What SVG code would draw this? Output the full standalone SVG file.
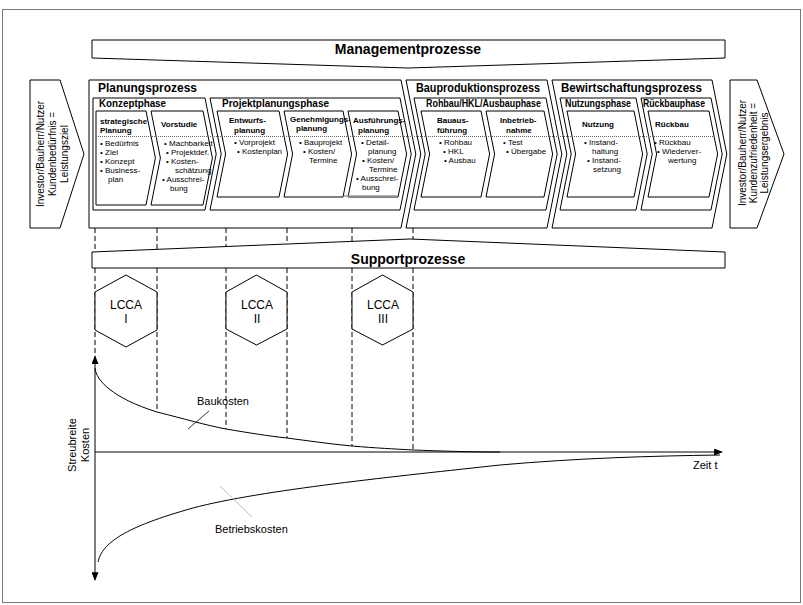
<svg xmlns="http://www.w3.org/2000/svg" width="803" height="605" viewBox="0 0 803 605">
<defs>
<style>
.sh{fill:#fff;stroke:#000;stroke-width:1}
.t{font-family:"Liberation Sans",Arial,sans-serif;fill:#000}
.pt{font-size:12px;font-weight:bold}
.ph{font-size:10px;font-weight:bold}
.sb{font-size:8px;font-weight:bold}
.bd{font-size:8px}
.big{font-size:14px;font-weight:bold}
.lab{font-size:11px}
.ds{stroke:#000;stroke-width:1;stroke-dasharray:5,3;fill:none}
.ln{stroke:#000;stroke-width:1;fill:none}
</style>
<marker id="arr" viewBox="0 0 10 8" refX="9" refY="4" markerWidth="9" markerHeight="7" markerUnits="userSpaceOnUse" orient="auto-start-reverse">
<path d="M0,0 L10,4 L0,8 Z" fill="#000"/>
</marker>
</defs>
<rect x="2.5" y="9.5" width="798" height="593" fill="#fff" stroke="#777"/>

<g id="connectors">
<line class="ds" x1="95" y1="228" x2="95" y2="253"/>
<line class="ds" x1="157" y1="228" x2="157" y2="253"/>
<line class="ds" x1="226" y1="228" x2="226" y2="253"/>
<line class="ds" x1="287" y1="228" x2="287" y2="253"/>
<line class="ds" x1="352" y1="228" x2="352" y2="253"/>
<line class="ds" x1="413" y1="228" x2="413" y2="253"/>
<line class="ds" x1="95" y1="268" x2="95" y2="355"/>
<line class="ds" x1="157" y1="268" x2="157" y2="412"/>
<line class="ds" x1="226" y1="268" x2="226" y2="429"/>
<line class="ds" x1="287" y1="268" x2="287" y2="438"/>
<line class="ds" x1="352" y1="268" x2="352" y2="446"/>
<line class="ds" x1="413" y1="268" x2="413" y2="449"/>
<line class="ln" x1="95" y1="356" x2="95" y2="580" marker-start="url(#arr)" marker-end="url(#arr)"/>
<line class="ln" x1="95" y1="452" x2="722" y2="452" marker-end="url(#arr)"/>
<path class="ln" d="M95,368 C96,380 112,398 157,412 C185,419 205,425 226,429 C250,433 268,436 287,438 C310,441 330,444 352,446 C375,448 395,449 413,450 C440,451 470,452 500,452"/>
<path class="ln" d="M98,562 C102,543 125,527 193,508 C260,490 400,476 500,465 C580,458 650,456 720,455"/>
<line x1="209" y1="411" x2="188" y2="429" stroke="#333" stroke-width="1"/>
<line x1="220" y1="486" x2="252" y2="517" stroke="#bbb" stroke-width="1"/>
</g>

<g id="management">
<path class="sh" d="M92,40 H725 V58 L408,68 L92,58 Z"/>
<text class="t big" x="408" y="54" text-anchor="middle">Managementprozesse</text>
</g>

<g id="support">
<path class="sh" d="M92,252 L410,239 L725,252 V268 H92 Z"/>
<text class="t big" x="408" y="264" text-anchor="middle">Supportprozesse</text>
</g>

<g id="input">
<path class="sh" d="M30,80 H60 L84,154 L60,228 H30 Z"/>
<g class="t" font-size="10" text-anchor="middle">
<text transform="translate(44,154) rotate(-90)">Investor/Bauherr/Nutzer</text>
<text transform="translate(56,154) rotate(-90)">Kundenbedürfnis =</text>
<text transform="translate(68,154) rotate(-90)">Leistungsziel</text>
</g>
</g>

<g id="output">
<path class="sh" d="M730,80 H757 L784,154 L757,228 H730 Z"/>
<g class="t" font-size="10" text-anchor="middle">
<text transform="translate(746,153) rotate(-90)">Investor/Bauherr/Nutzer</text>
<text transform="translate(757,153) rotate(-90)">Kundenzufriedenheit =</text>
<text transform="translate(768,153) rotate(-90)">Leistungsergebnis</text>
</g>
</g>

<g id="planungsprozess">
<path class="sh" d="M89,80 H401 L415.8,154 L401,228 H89 Z"/>
<text class="t pt" x="98" y="92" textLength="99" lengthAdjust="spacingAndGlyphs">Planungsprozess</text>
</g>
<g id="bauproduktionsprozess">
<path class="sh" d="M406,80 H547 L561.8,154 L547,228 H406 L420.8,154 Z"/>
<text class="t pt" x="416" y="92" textLength="124" lengthAdjust="spacingAndGlyphs">Bauproduktionsprozess</text>
</g>
<g id="bewirtschaftungsprozess">
<path class="sh" d="M552,80 H712 L726.8,154 L712,228 H552 L566.8,154 Z"/>
<text class="t pt" x="561" y="92" textLength="141" lengthAdjust="spacingAndGlyphs">Bewirtschaftungsprozess</text>
</g>

<g id="konzeptphase">
<path class="sh" d="M93,98 H205 L216.2,154 L205,210 H93 Z"/>
<text class="t ph" x="99" y="107" textLength="67" lengthAdjust="spacingAndGlyphs">Konzeptphase</text>
</g>
<g id="projektplanungsphase">
<path class="sh" d="M210,98 H400 L411.2,154 L400,210 H210 L221.2,154 Z"/>
<text class="t ph" x="222" y="107" textLength="107" lengthAdjust="spacingAndGlyphs">Projektplanungsphase</text>
</g>
<g id="rohbauphase">
<path class="sh" d="M414,98 H546 L557.2,154 L546,210 H414 L425.2,154 Z"/>
<text class="t ph" x="426" y="107" textLength="115" lengthAdjust="spacingAndGlyphs">Rohbau/HKL/Ausbauphase</text>
</g>
<g id="nutzungsphase">
<path class="sh" d="M560,98 H636 L647.2,154 L636,210 H560 L571.2,154 Z"/>
<text class="t ph" x="565" y="107" textLength="66" lengthAdjust="spacingAndGlyphs">Nutzungsphase</text>
</g>
<g id="rueckbauphase">
<path class="sh" d="M641,98 H711 L722.2,154 L711,210 H641 L652.2,154 Z"/>
<text class="t ph" x="643" y="107" textLength="62" lengthAdjust="spacingAndGlyphs">Rückbauphase</text>
</g>

<g id="strategische-planung">
<path class="sh" d="M96,111 H146 L155.4,158 L146,205 H96 Z"/>
<text class="t sb" x="100" y="124">strategische</text>
<text class="t sb" x="100" y="133">Planung</text>
<g class="t bd">
<text x="100" y="146">• Bedürfnis</text>
<text x="100" y="155">• Ziel</text>
<text x="100" y="164">• Konzept</text>
<text x="100" y="173">• Business-</text>
<text x="108" y="182">plan</text>
</g>
</g>
<g id="vorstudie">
<path class="sh" d="M151,111 H203 L212.4,158 L203,205 H151 L160.4,158 Z"/>
<text class="t sb" x="161" y="127">Vorstudie</text>
<g class="t bd">
<text x="164" y="146">• Machbarkeit</text>
<text x="166" y="155">• Projektdef.</text>
<text x="166" y="164">• Kosten-</text>
<text x="175" y="173">schätzung</text>
<text x="162" y="182">• Ausschrei-</text>
<text x="170" y="191">bung</text>
</g>
</g>
<g id="entwurfsplanung">
<path class="sh" d="M217,111 H279 L287.6,154 L279,197 H217 L225.6,154 Z"/>
<text class="t sb" x="229" y="123">Entwurfs-</text>
<text class="t sb" x="234" y="133">planung</text>
<g class="t bd">
<text x="234" y="145">• Vorprojekt</text>
<text x="237" y="154">• Kostenplan</text>
</g>
</g>
<g id="genehmigungsplanung">
<path class="sh" d="M284,111 H343 L351.6,154 L343,197 H284 L292.6,154 Z"/>
<text class="t sb" x="290" y="122" font-size="7">Genehmigungs-</text>
<text class="t sb" x="296" y="131" font-size="7">planung</text>
<g class="t bd">
<text x="299" y="145">• Bauprojekt</text>
<text x="303" y="154">• Kosten/</text>
<text x="309" y="163">Termine</text>
</g>
</g>
<g id="ausfuehrungsplanung">
<path class="sh" d="M348,111 H398 L406.6,154 L398,197 H348 L356.6,154 Z"/>
<line x1="344" y1="196" x2="397" y2="196" stroke="#999" stroke-width="1.5"/>
<text class="t sb" x="353" y="123">Ausführungs-</text>
<text class="t sb" x="358" y="133">planung</text>
<g class="t bd">
<text x="361" y="145">• Detail-</text>
<text x="368" y="154">planung</text>
<text x="362" y="163">• Kosten/</text>
<text x="369" y="172">Termine</text>
<text x="356" y="181">• Ausschrei-</text>
<text x="362" y="190">bung</text>
</g>
</g>
<g id="bauausfuehrung">
<path class="sh" d="M421,111 H481 L489.6,154 L481,197 H421 L429.6,154 Z"/>
<text class="t sb" x="437" y="123">Bauaus-</text>
<text class="t sb" x="437" y="133">führung</text>
<g class="t bd">
<text x="439" y="145">• Rohbau</text>
<text x="443" y="154">• HKL</text>
<text x="444" y="163">• Ausbau</text>
</g>
</g>
<g id="inbetriebnahme">
<path class="sh" d="M486,111 H544 L552.6,154 L544,197 H486 L494.6,154 Z"/>
<text class="t sb" x="500" y="123">Inbetrieb-</text>
<text class="t sb" x="506" y="133">nahme</text>
<g class="t bd">
<text x="503" y="145">• Test</text>
<text x="506" y="154">• Übergabe</text>
</g>
</g>
<g id="nutzung">
<path class="sh" d="M567,111 H634 L642.6,154 L634,197 H567 L575.6,154 Z"/>
<text class="t sb" x="582" y="127">Nutzung</text>
<g class="t bd">
<text x="584" y="145">• Instand-</text>
<text x="592" y="154">haltung</text>
<text x="587" y="163">• Instand-</text>
<text x="593" y="172">setzung</text>
</g>
</g>
<g id="rueckbau">
<path class="sh" d="M648,111 H709 L717.6,154 L709,197 H648 L656.6,154 Z"/>
<text class="t sb" x="655" y="127">Rückbau</text>
<g class="t bd">
<text x="654" y="145">• Rückbau</text>
<text x="657" y="154">• Wiederver-</text>
<text x="668" y="163">wertung</text>
</g>
</g>
<line x1="96" y1="136.5" x2="714" y2="136.5" stroke="#666" stroke-width="1" stroke-dasharray="1,1"/>

<g id="lcca1">
<polygon class="sh" points="126,275 157,292 157,330 126,347 95,330 95,292"/>
<text class="t" font-size="12" x="126" y="309" text-anchor="middle">LCCA</text>
<text class="t" font-size="12" x="126" y="323" text-anchor="middle">I</text>
</g>
<g id="lcca2">
<polygon class="sh" points="256.5,275 287,292 287,329 256.5,345 226,329 226,292"/>
<text class="t" font-size="12" x="257" y="309" text-anchor="middle">LCCA</text>
<text class="t" font-size="12" x="257" y="323" text-anchor="middle">II</text>
</g>
<g id="lcca3">
<polygon class="sh" points="382.5,275 413,292 413,329 382.5,345 352,329 352,292"/>
<text class="t" font-size="12" x="383" y="309" text-anchor="middle">LCCA</text>
<text class="t" font-size="12" x="383" y="323" text-anchor="middle">III</text>
</g>

<g id="labels">
<text class="t lab" x="197" y="405">Baukosten</text>
<text class="t lab" x="215" y="533">Betriebskosten</text>
<text class="t lab" x="693" y="469">Zeit t</text>
<text class="t lab" transform="translate(76,445) rotate(-90)" text-anchor="middle">Streubreite</text>
<text class="t lab" transform="translate(89,445) rotate(-90)" text-anchor="middle">Kosten</text>
</g>
</svg>
